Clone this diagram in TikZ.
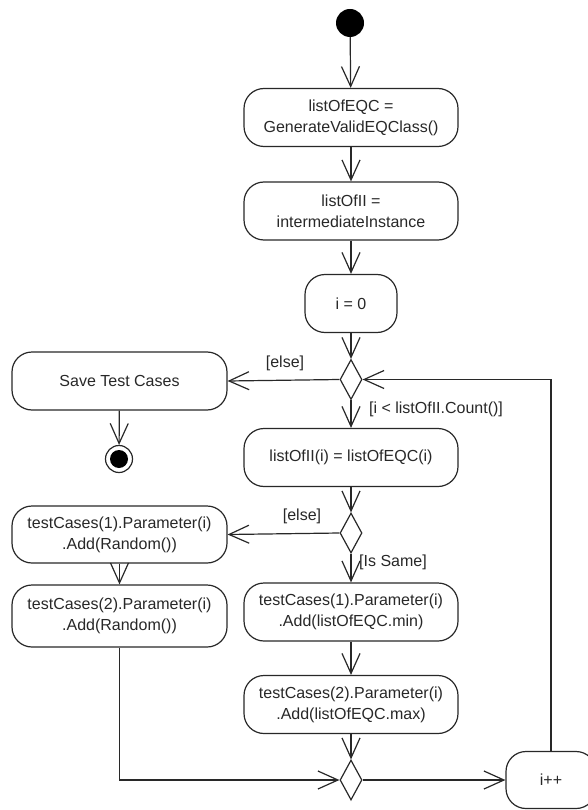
\documentclass[tikz,border=0pt]{standalone}
\usepackage{fontspec}
\setmainfont{Liberation Sans}
\usetikzlibrary{arrows.meta,shapes.geometric}
\definecolor{ink}{RGB}{40,40,40}
\begin{document}
\begin{tikzpicture}[x=1pt,y=-1pt,
  every node/.style={font=\fontsize{16}{21}\selectfont, text=ink},
  action/.style={draw=ink, line width=1.2pt, rounded corners=20pt, align=center,
    inner sep=0pt, minimum width=214pt, minimum height=58pt},
  smallaction/.style={action, minimum width=92pt},
  decision/.style={draw=ink, line width=1.2pt, diamond, inner sep=0pt,
    minimum width=22pt, minimum height=40pt, fill=white},
  flow/.style={draw=ink, line width=1.2pt,
    -{Straight Barb[length=20pt,width=18pt]}},
  guard/.style={inner sep=0pt}]
\clip (0,0) rectangle (588,810);
\fill[white] (0,0) rectangle (588,810);

% initial and final nodes
\node[circle, fill=black, minimum size=28pt, inner sep=0pt] (start) at (350,23) {};
\node[circle, draw=ink, line width=1.2pt, minimum size=27pt, inner sep=0pt] (finish) at (119,459) {};
\fill[black] (finish.center) circle[radius=9pt];

% main column
\node[action] (eqc) at (351,117.5) {listOfEQC =\\GenerateValidEQClass()};
\node[action] (ii) at (351,211) {listOfII =\\intermediateInstance};
\node[smallaction] (init) at (351,303.5) {i = 0};
\node[decision] (loop) at (351,379.5) {};
\node[action] (assign) at (351,457.5) {listOfII(i) = listOfEQC(i)};
\node[decision] (same) at (351,533) {};
\node[action] (minv) at (351,612) {testCases(1).Parameter(i)\\.Add(listOfEQC.min)};
\node[action] (maxv) at (351,704.5) {testCases(2).Parameter(i)\\.Add(listOfEQC.max)};
\node[decision] (merge) at (351,780) {};

% left column
\node[action, minimum width=215pt] (save) at (119.5,381) {Save Test Cases};
\node[action, minimum width=215pt, minimum height=57pt] (rand1) at (119.5,534.5) {testCases(1).Parameter(i)\\.Add(Random())};
\node[action, minimum width=215pt, minimum height=62pt] (rand2) at (119.5,616) {testCases(2).Parameter(i)\\.Add(Random())};

% increment
\node[smallaction, minimum width=90pt, minimum height=57pt] (inc) at (551,780) {i++};

% control flow
\draw[flow] (start) -- (eqc);
\draw[flow] (eqc) -- (ii);
\draw[flow] (ii) -- (init);
\draw[flow] (init) -- (loop.north);
\draw[flow] (loop.west) -- (save.east);
\draw[flow] (loop.south) -- (assign.north);
\draw[flow] (save) -- (finish);
\draw[flow] (assign) -- (same.north);
\draw[flow] (same.west) -- (rand1.east);
\draw[flow] (same.south) -- (minv.north);
\draw[flow] (rand1) -- (rand2);
\draw[flow] (minv) -- (maxv);
\draw[flow] (maxv) -- (merge.north);
\draw[flow] (rand2.south) |- (merge.west);
\draw[flow] (merge.east) -- (inc.west);
\draw[flow] (inc.north) |- (loop.east);

% guards
\node[guard] (g1) at (285,363) {[else]};
\node[guard] (g2) at (436,409) {[i < listOfII.Count()]};
\node[guard] (g3) at (302,516) {[else]};
\node[guard] (g4) at (393,562) {[Is Same]};
\end{tikzpicture}
\end{document}
